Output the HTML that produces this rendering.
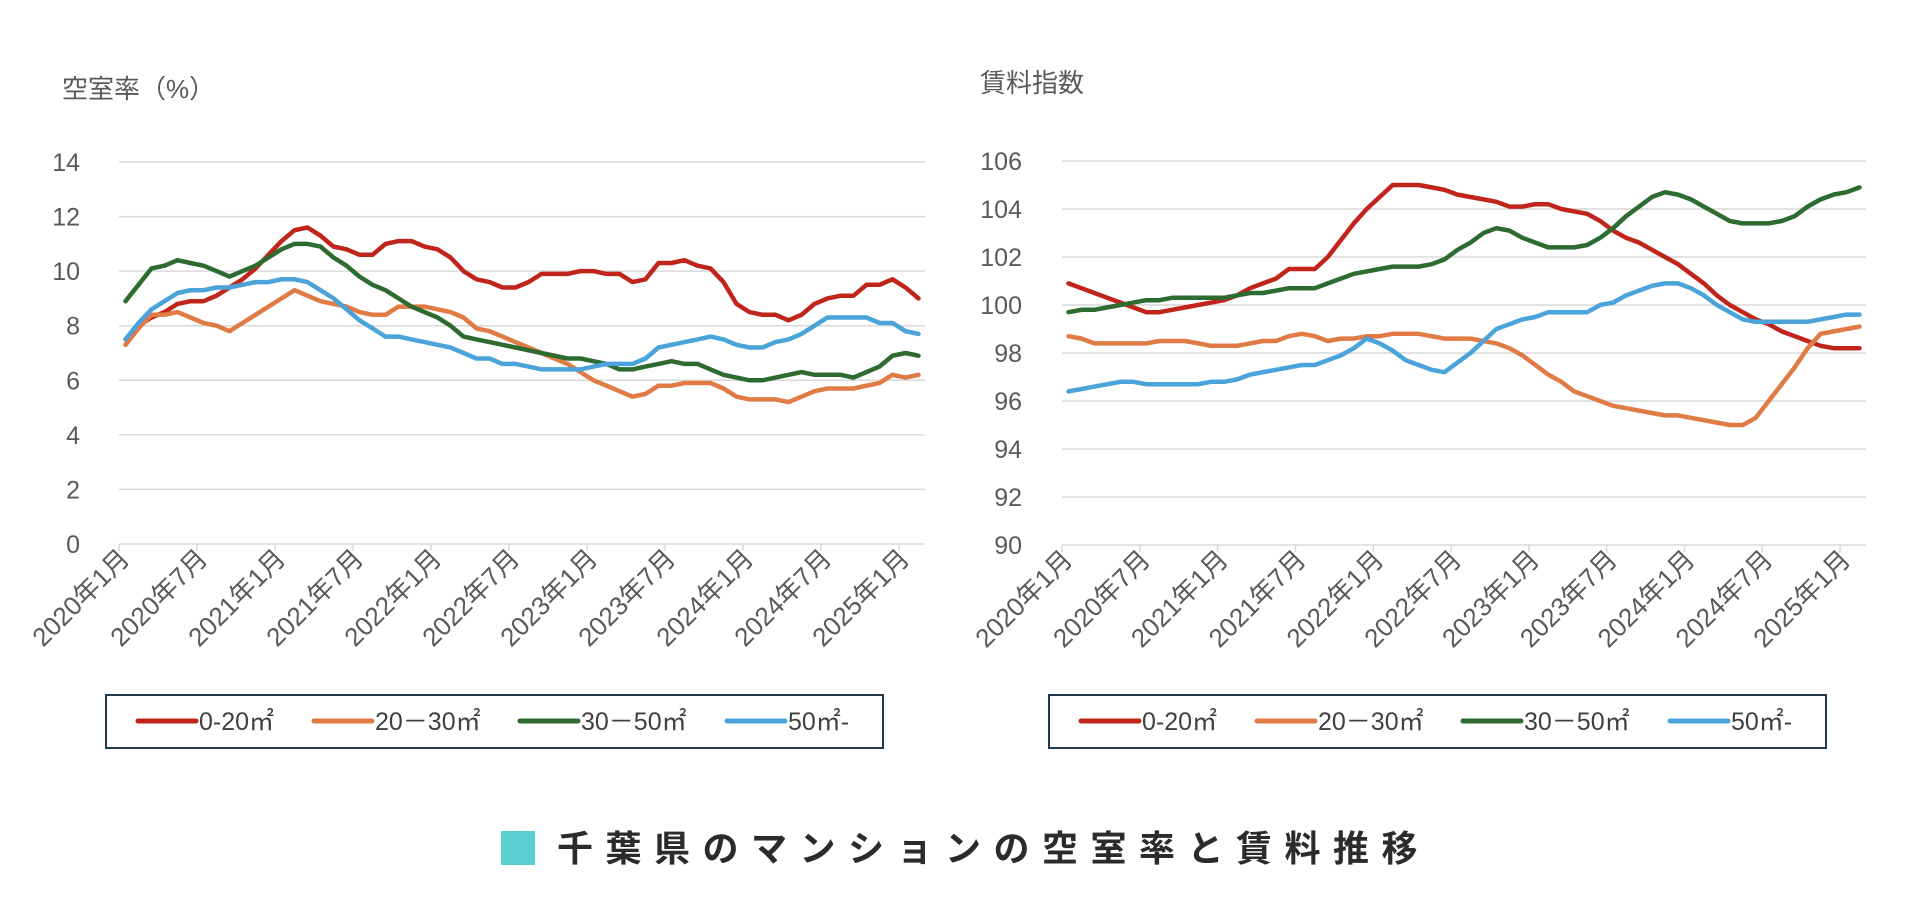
<!DOCTYPE html>
<html><head><meta charset="utf-8">
<style>
body{margin:0;background:#fff;width:1921px;height:920px;overflow:hidden;font-family:"Liberation Sans","Noto Sans CJK JP",sans-serif;}
svg{display:block}
</style></head>
<body>
<svg id="c" width="1921" height="920" xmlns="http://www.w3.org/2000/svg"></svg>
<script>
const months = [];
for (let y = 2020; y <= 2025; y++) for (let m = 1; m <= 12; m++) { if (months.length < 62) months.push(y + '年' + m + '月'); }
const tickLabels = ['2020年1月','2020年7月','2021年1月','2021年7月','2022年1月','2022年7月','2023年1月','2023年7月','2024年1月','2024年7月','2025年1月'];
const seriesNames = ['0-20㎡','20－30㎡','30－50㎡','50㎡-'];
const vacancyTicks = [0,2,4,6,8,10,12,14];
const rentTicks = [90,92,94,96,98,100,102,104,106];

const vac020 = [7.5,8.0,8.3,8.5,8.8,8.9,8.9,9.1,9.4,9.7,10.1,10.6,11.1,11.5,11.6,11.3,10.9,10.8,10.6,10.6,11.0,11.1,11.1,10.9,10.8,10.5,10.0,9.7,9.6,9.4,9.4,9.6,9.9,9.9,9.9,10.0,10.0,9.9,9.9,9.6,9.7,10.3,10.3,10.4,10.2,10.1,9.6,8.8,8.5,8.4,8.4,8.2,8.4,8.8,9.0,9.1,9.1,9.5,9.5,9.7,9.4,9.0];
const vac2030 = [7.3,7.9,8.4,8.4,8.5,8.3,8.1,8.0,7.8,8.1,8.4,8.7,9.0,9.3,9.1,8.9,8.8,8.7,8.5,8.4,8.4,8.7,8.7,8.7,8.6,8.5,8.3,7.9,7.8,7.6,7.4,7.2,7.0,6.8,6.6,6.3,6.0,5.8,5.6,5.4,5.5,5.8,5.8,5.9,5.9,5.9,5.7,5.4,5.3,5.3,5.3,5.2,5.4,5.6,5.7,5.7,5.7,5.8,5.9,6.2,6.1,6.2];
const vac3050 = [8.9,9.5,10.1,10.2,10.4,10.3,10.2,10.0,9.8,10.0,10.2,10.5,10.8,11.0,11.0,10.9,10.5,10.2,9.8,9.5,9.3,9.0,8.7,8.5,8.3,8.0,7.6,7.5,7.4,7.3,7.2,7.1,7.0,6.9,6.8,6.8,6.7,6.6,6.4,6.4,6.5,6.6,6.7,6.6,6.6,6.4,6.2,6.1,6.0,6.0,6.1,6.2,6.3,6.2,6.2,6.2,6.1,6.3,6.5,6.9,7.0,6.9];
const vac50 = [7.5,8.1,8.6,8.9,9.2,9.3,9.3,9.4,9.4,9.5,9.6,9.6,9.7,9.7,9.6,9.3,9.0,8.6,8.2,7.9,7.6,7.6,7.5,7.4,7.3,7.2,7.0,6.8,6.8,6.6,6.6,6.5,6.4,6.4,6.4,6.4,6.5,6.6,6.6,6.6,6.8,7.2,7.3,7.4,7.5,7.6,7.5,7.3,7.2,7.2,7.4,7.5,7.7,8.0,8.3,8.3,8.3,8.3,8.1,8.1,7.8,7.7];

const rent020 = [100.9,100.7,100.5,100.3,100.1,99.9,99.7,99.7,99.8,99.9,100.0,100.1,100.2,100.4,100.7,100.9,101.1,101.5,101.5,101.5,102.0,102.7,103.4,104.0,104.5,105.0,105.0,105.0,104.9,104.8,104.6,104.5,104.4,104.3,104.1,104.1,104.2,104.2,104.0,103.9,103.8,103.5,103.1,102.8,102.6,102.3,102.0,101.7,101.3,100.9,100.4,100.0,99.7,99.4,99.2,98.9,98.7,98.5,98.3,98.2,98.2,98.2];
const rent2030 = [98.7,98.6,98.4,98.4,98.4,98.4,98.4,98.5,98.5,98.5,98.4,98.3,98.3,98.3,98.4,98.5,98.5,98.7,98.8,98.7,98.5,98.6,98.6,98.7,98.7,98.8,98.8,98.8,98.7,98.6,98.6,98.6,98.5,98.4,98.2,97.9,97.5,97.1,96.8,96.4,96.2,96.0,95.8,95.7,95.6,95.5,95.4,95.4,95.3,95.2,95.1,95.0,95.0,95.3,96.0,96.7,97.4,98.2,98.8,98.9,99.0,99.1];
const rent3050 = [99.7,99.8,99.8,99.9,100.0,100.1,100.2,100.2,100.3,100.3,100.3,100.3,100.3,100.4,100.5,100.5,100.6,100.7,100.7,100.7,100.9,101.1,101.3,101.4,101.5,101.6,101.6,101.6,101.7,101.9,102.3,102.6,103.0,103.2,103.1,102.8,102.6,102.4,102.4,102.4,102.5,102.8,103.2,103.7,104.1,104.5,104.7,104.6,104.4,104.1,103.8,103.5,103.4,103.4,103.4,103.5,103.7,104.1,104.4,104.6,104.7,104.9];
const rent50 = [96.4,96.5,96.6,96.7,96.8,96.8,96.7,96.7,96.7,96.7,96.7,96.8,96.8,96.9,97.1,97.2,97.3,97.4,97.5,97.5,97.7,97.9,98.2,98.6,98.4,98.1,97.7,97.5,97.3,97.2,97.6,98.0,98.5,99.0,99.2,99.4,99.5,99.7,99.7,99.7,99.7,100.0,100.1,100.4,100.6,100.8,100.9,100.9,100.7,100.4,100.0,99.7,99.4,99.3,99.3,99.3,99.3,99.3,99.4,99.5,99.6,99.6];

const colors = ['#c0241b','#e07b45','#2e6b30','#4aa3d9'];
const NS = 'http://www.w3.org/2000/svg';
const svg = document.getElementById('c');
function mk(tag, attrs, parent) { const e = document.createElementNS(NS, tag); for (const k in attrs) e.setAttribute(k, attrs[k]); (parent||svg).appendChild(e); return e; }

function drawChart(cfg) {
  const g = mk('g', {});
  
  
  const n = months.length;
  const cw = (cfg.x1 - cfg.x0) / n;
  const xPos = i => cfg.x0 + cw * (i + 0.5);
  const yPos = v => cfg.yB - (v - cfg.vmin) / (cfg.vmax - cfg.vmin) * (cfg.yB - cfg.yT);
  const t = mk('text', {x: cfg.titleX, y: cfg.titleY, 'font-size': 26, fill: '#595959'}, g);
  t.textContent = cfg.title;
  
  
  cfg.ticks.forEach(v => {
    const y = yPos(v);
    if (v !== cfg.vmin) {
      const l = mk('line', {x1: cfg.x0, x2: cfg.x1, y1: y, y2: y, stroke: '#d9d9d9', 'stroke-width': 1.5}, g);
      
      
    }
    const tx = mk('text', {x: cfg.labX, y: y + 9, 'font-size': 25, fill: '#595959', 'text-anchor': 'end'}, g);
    tx.textContent = v;
    
    
  });
  const ax = mk('line', {x1: cfg.x0, x2: cfg.x1, y1: cfg.yB, y2: cfg.yB, stroke: '#d9d9d9', 'stroke-width': 1.5}, g);
  
  
  tickLabels.forEach((lab, k) => {
    const x = cfg.x0 + cw * 6 * k;
    const tk = mk('line', {x1: x, x2: x, y1: cfg.yB, y2: cfg.yB + 7, stroke: '#d9d9d9', 'stroke-width': 1.5}, g);
    
    
    const tx = mk('text', {x: 0, y: 0, 'font-size': 26, fill: '#595959', 'text-anchor': 'end', transform: `translate(${x + 12},${cfg.yB + 16}) rotate(-45)`}, g);
    tx.textContent = lab;
    
    
  });
  cfg.series.forEach((arr, s) => {
    const d = arr.map((v, i) => (i ? 'L' : 'M') + xPos(i).toFixed(1) + ' ' + yPos(v).toFixed(1)).join(' ');
    const p = mk('path', {d, fill: 'none', stroke: colors[s], 'stroke-width': 4.5, 'stroke-linejoin': 'round', 'stroke-linecap': 'round'}, g);
    
    
  });
  const lx = cfg.legX;
  const box = mk('rect', {x: lx, y: 695, width: 777, height: 53, fill: '#fff', stroke: '#1f3a4d', 'stroke-width': 2}, g);
  
  
  const offs = [32, 208, 414, 621];
  seriesNames.forEach((nm, s) => {
    const x = lx + offs[s];
    const ln = mk('line', {x1: x, x2: x + 58, y1: 721, y2: 721, stroke: colors[s], 'stroke-width': 5, 'stroke-linecap': 'round'}, g);
    
    
    const tx = mk('text', {x: x + 61, y: 730, 'font-size': 25, fill: '#404040'}, g);
    tx.textContent = nm;
    
    
  });
}

drawChart({name: 'vacancy-chart', title: '空室率（%）', titleX: 62, titleY: 98, x0: 119, x1: 925, yT: 162, yB: 544, vmin: 0, vmax: 14, ticks: vacancyTicks, labX: 80, legX: 106, series: [vac020, vac2030, vac3050, vac50]});
drawChart({name: 'rent-index-chart', title: '賃料指数', titleX: 980, titleY: 92, x0: 1062, x1: 1866, yT: 161, yB: 545, vmin: 90, vmax: 106, ticks: rentTicks, labX: 1022, legX: 1049, series: [rent020, rent2030, rent3050, rent50]});

const sq = mk('rect', {x: 501, y: 831, width: 34, height: 34, fill: '#5ccfd3'});


const tt = mk('text', {x: 557, y: 861, 'font-size': 36, 'font-weight': 'bold', fill: '#2b2b2b', 'letter-spacing': 12.5});
tt.textContent = '千葉県のマンションの空室率と賃料推移';


</script>
</body></html>
